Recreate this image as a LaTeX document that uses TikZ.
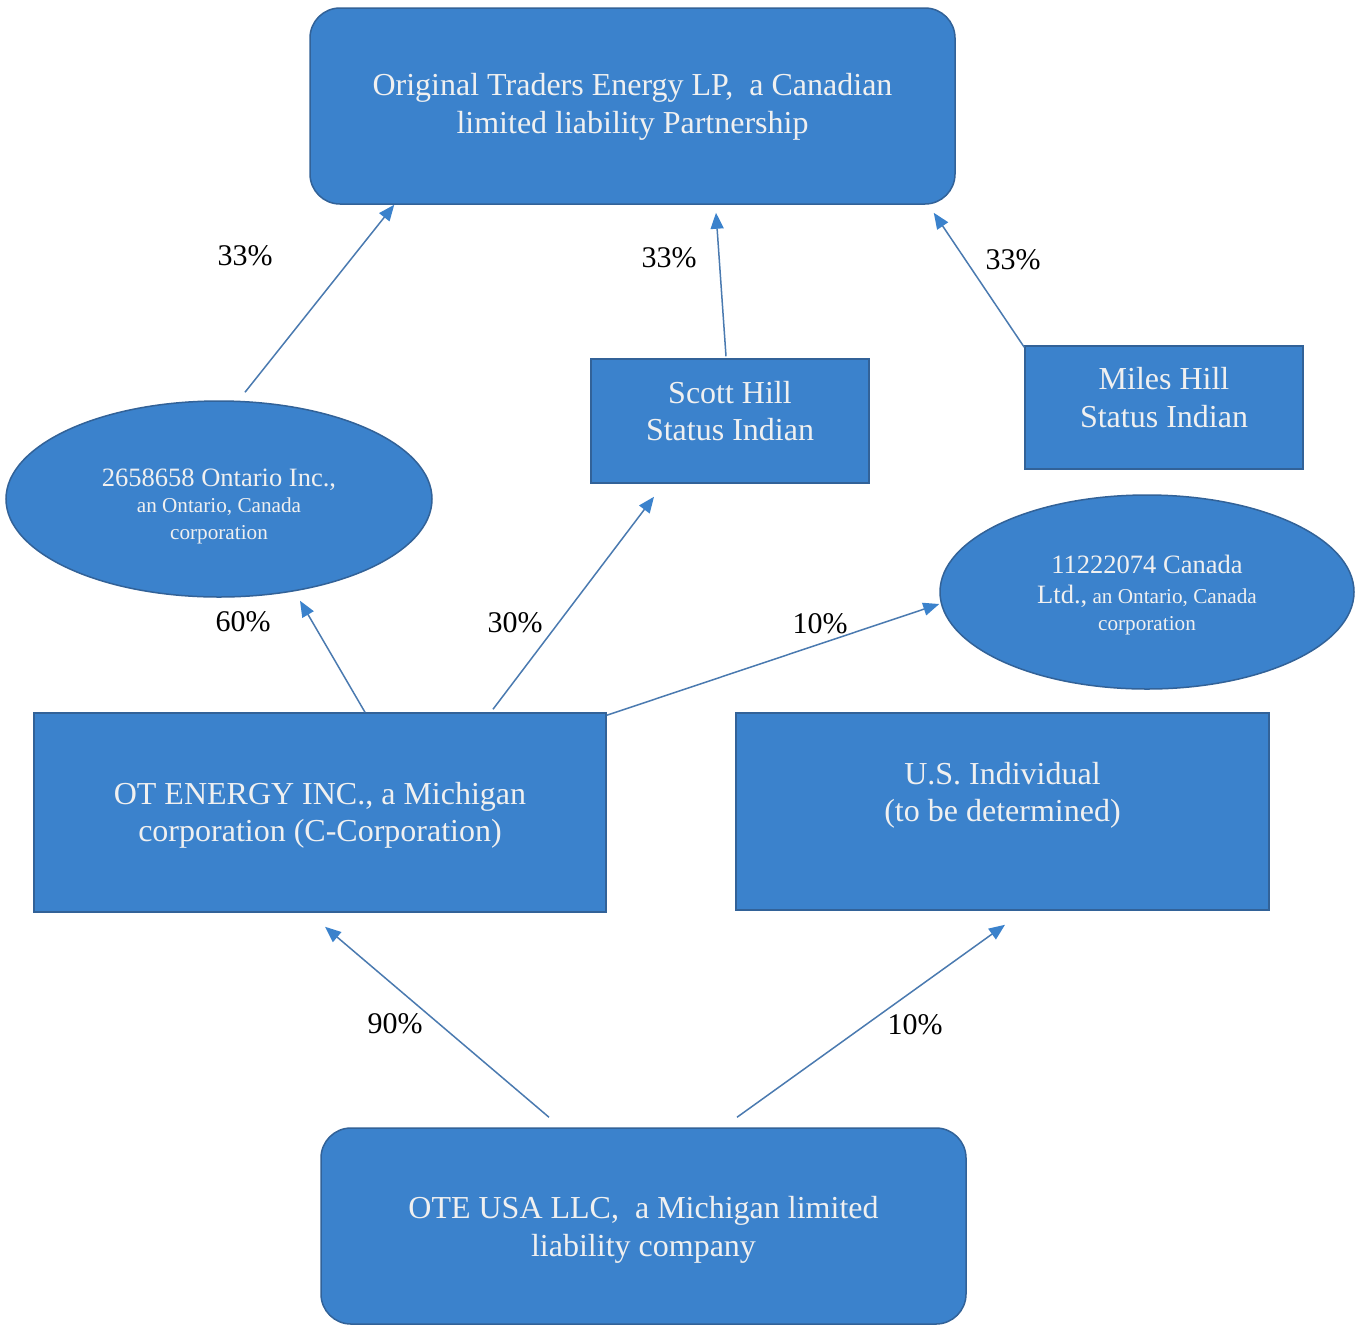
\documentclass[tikz,border=0pt]{standalone}
\usepackage{fontspec}
\setmainfont{Liberation Serif}
\usetikzlibrary{shapes.geometric,arrows.meta}
\definecolor{boxfill}{RGB}{59,130,204}
\definecolor{boxedge}{RGB}{50,98,152}
\definecolor{linecol}{RGB}{74,122,176}
\begin{document}
\begin{tikzpicture}[x=1pt,y=-1pt,
  entity/.style={draw=boxedge, line width=1.5pt, fill=boxfill, inner sep=0pt},
  rbox/.style={entity, rectangle},
  rrbox/.style={entity, rectangle, rounded corners=30pt},
  ebox/.style={entity, ellipse},
  txt/.style={text=white!94!black, align=center, inner sep=0pt, font=\fontsize{32}{37.5}\selectfont},
  etxt/.style={text=white!94!black, align=center, inner sep=0pt, font=\fontsize{21.2}{26.5}\selectfont},
  pct/.style={text=black, inner sep=0pt, font=\fontsize{30}{36}\selectfont},
  own/.style={draw=linecol, line width=1.5pt, -{Triangle[length=16pt,width=13pt,color=boxfill]}}
]
\useasboundingbox (0,0) rectangle (1356,1326);
\fill[white] (0,0) rectangle (1356,1326);

% entities
\node[rrbox, minimum width=645pt, minimum height=196pt,
  label={[txt,yshift=-1pt]center:{Original Traders Energy LP,\ \ a Canadian\\limited liability Partnership}}]
  (top) at (632.5,106) {};
\node[rbox, minimum width=278pt, minimum height=124pt,
  label={[txt,yshift=10pt]center:{Scott Hill\\Status Indian}}]
  (scott) at (730,421) {};
\node[rbox, minimum width=278pt, minimum height=123pt,
  label={[txt,yshift=10pt]center:{Miles Hill\\Status Indian}}]
  (miles) at (1164,407.5) {};
\node[ebox, minimum width=426pt, minimum height=196pt,
  label={[etxt,yshift=-7pt]center:{{\fontsize{26.5}{26.5}\selectfont 2658658 Ontario Inc.,}\\an Ontario, Canada\\corporation}}]
  (ell1) at (219,499) {};
\node[ebox, minimum width=414pt, minimum height=194pt,
  label={[etxt,yshift=-3pt]center:{{\fontsize{26.5}{26.5}\selectfont 11222074 Canada}\\[4pt]{\fontsize{26.5}{26.5}\selectfont Ltd.,} an Ontario, Canada\\corporation}}]
  (ell2) at (1147,592) {};
\node[rbox, minimum width=572pt, minimum height=199pt,
  label={[txt,yshift=-3pt]center:{OT ENERGY INC., a Michigan\\corporation (C-Corporation)}}]
  (ot) at (320,812.5) {};
\node[rbox, minimum width=533pt, minimum height=197pt,
  label={[txt,yshift=16pt]center:{U.S. Individual\\(to be determined)}}]
  (us) at (1002.5,811.5) {};
\node[rrbox, minimum width=645pt, minimum height=196pt,
  label={[txt,yshift=-4pt]center:{OTE USA LLC,\ \ a Michigan limited\\liability company}}]
  (ote) at (643.5,1226) {};

% ownership arrows
\draw[own] ([xshift=26pt,yshift=8pt]ell1.north) -- ([xshift=85pt]top.south west);
\draw[own] ([xshift=-4pt,yshift=2pt]scott.north) -- ([xshift=83.5pt,yshift=-8pt]top.south);
\draw[own] ([yshift=-2pt]miles.north west) -- ([xshift=-22pt,yshift=-8pt]top.south east);
\draw[own] ([xshift=45pt]ot.north) -- ([xshift=81pt,yshift=-3pt]ell1.south);
\draw[own] ([xshift=173pt,yshift=3pt]ot.north) -- ([xshift=-76pt,yshift=-13pt]scott.south);
\draw[own] ([yshift=-3pt]ot.north east) -- ([yshift=-12pt]ell2.west);
\draw[own] ([xshift=-94.5pt,yshift=10pt]ote.north) -- ([xshift=5pt,yshift=-14pt]ot.south);
\draw[own] ([xshift=93.5pt,yshift=10pt]ote.north) -- ([xshift=2.5pt,yshift=-14pt]us.south);

% percentages
\node[pct] (p1) at (245,256) {33\%};
\node[pct] (p2) at (669,258) {33\%};
\node[pct] (p3) at (1013,260) {33\%};
\node[pct] (p4) at (243,622) {60\%};
\node[pct] (p5) at (515,623) {30\%};
\node[pct] (p6) at (820,624) {10\%};
\node[pct] (p7) at (395,1024) {90\%};
\node[pct] (p8) at (915,1025) {10\%};
\end{tikzpicture}
\end{document}
